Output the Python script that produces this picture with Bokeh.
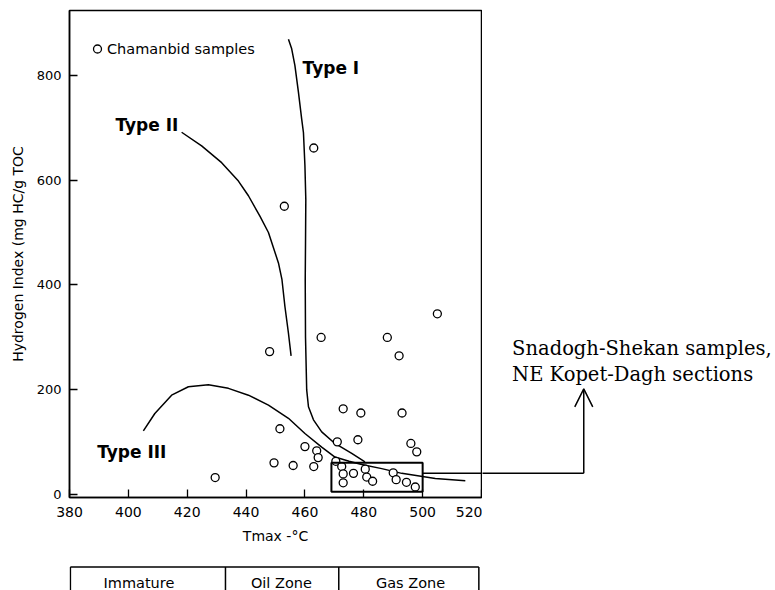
from bokeh.plotting import figure
from bokeh.layouts import row, column
from bokeh.models import (Range1d, FixedTicker, Label, Arrow, OpenHead,
                          BoxAnnotation, Legend, LegendItem, ColumnDataSource)
from bokeh.embed import file_html
from bokeh.resources import INLINE

# ---------------- data ----------------
tmax = [505, 465.5, 488, 448, 492, 473, 479, 493, 451.5, 471, 478, 496, 498,
        460, 464, 464.5, 463, 449.5, 456, 470.5, 472.5, 473, 473, 476.5, 480.5,
        481, 483, 490, 491, 494.5, 497.5, 453, 463, 429.5]
hi = [345, 300, 300, 273, 265, 164, 156, 156, 126, 101, 105, 98, 82,
      92, 84, 71, 54, 61, 56, 64, 54, 40, 23, 41, 49,
      34, 26, 42, 29, 24, 15, 550, 661, 33]

type1_t = [454.4, 455.5, 456.6, 457.8, 458.9, 459.5, 460.0, 460.3, 460.2, 460.1,
           460.2, 460.6, 461.2, 462.9, 465.7, 470.2, 475.9, 480.4]
type1_hi = [868, 850, 818, 767, 716, 690, 627, 563, 480, 410,
            300, 200, 168, 143, 120, 98, 79, 63]

type2_t = [418.1, 424.9, 431.7, 437.4, 440.8, 444.7, 447.6, 451.0, 452.2, 453.2, 454.4, 455.3]
type2_hi = [691, 665, 633, 598, 570, 531, 500, 442, 410, 359, 308, 265]

type3_t = [405.1, 409.0, 414.7, 420.4, 427.2, 434.0, 440.8, 447.6, 454.4, 460.0,
           465.7, 470.2, 475.0, 479.3, 486.1, 492.9, 504.3, 514.5]
type3_hi = [122, 155, 190, 206, 210, 203, 190, 171, 146, 117,
            91, 72, 64, 58, 50, 41, 31, 27]

x_ticks = [380, 400, 420, 440, 460, 480, 500, 520]
y_ticks = [0, 200, 400, 600, 800]

kerogen_types = ["Type I", "Type II", "Type III"]
zones = ["Immature", "Oil Zone", "Gas Zone"]
series_name = "Chamanbid samples"
note_lines = ["Snadogh-Shekan samples,", "NE Kopet-Dagh sections"]

# ---------------- layout constants ----------------
FW, FH = 412, 487            # plot frame size (px)
LEFT, TOP = 69, 10           # frame offset on the page
PX_PER_T = FW / 140.0
X0, X1 = 380, 520
Y0, Y1 = -5, 923

# ---------------- main plot ----------------
p = figure(frame_width=FW, frame_height=FH,
           min_border_left=LEFT, min_border_right=1,
           min_border_top=TOP, min_border_bottom=63,
           x_range=Range1d(X0, X1), y_range=Range1d(Y0, Y1),
           output_backend="svg", toolbar_location=None, tools="")
p.background_fill_color = "white"
p.border_fill_color = "white"
p.outline_line_color = "black"
p.outline_line_width = 1.5
p.grid.visible = False

p.xaxis.ticker = FixedTicker(ticks=x_ticks)
p.yaxis.ticker = FixedTicker(ticks=y_ticks)
for ax in (p.xaxis[0], p.yaxis[0]):
    ax.major_tick_in = 8
    ax.major_tick_out = 0
    ax.minor_tick_in = 0
    ax.minor_tick_out = 0
    ax.axis_line_color = "black"
    ax.axis_line_width = 1.5
    ax.major_tick_line_color = "black"
    ax.major_tick_line_width = 1.3
    ax.major_label_text_font = "DejaVu Sans"
    ax.major_label_text_color = "black"
    ax.axis_label_text_font = "DejaVu Sans"
    ax.axis_label_text_font_style = "normal"
    ax.axis_label_text_font_size = "14px"
    ax.axis_label_text_color = "black"
p.xaxis.major_label_text_font_size = "14px"
p.yaxis.major_label_text_font_size = "13px"
p.xaxis.major_label_standoff = 9
p.yaxis.major_label_standoff = 8
p.xaxis.axis_label = "Tmax -°C"
p.xaxis.axis_label_standoff = 8
p.yaxis.axis_label = "Hydrogen Index (mg HC/g TOC"
p.yaxis.axis_label_standoff = 8

# kerogen type curves
for xs, ys in ((type1_t, type1_hi), (type2_t, type2_hi), (type3_t, type3_hi)):
    p.line(xs, ys, line_color="black", line_width=1.5)

# curve labels
label_pos = [(459.2, 812.5), (395.6, 703.9), (389.4, 81.3)]
for name, (lx, ly) in zip(kerogen_types, label_pos):
    p.add_layout(Label(x=lx, y=ly, text=name, text_font="DejaVu Sans",
                       text_font_style="bold", text_font_size="17px",
                       text_color="black", text_baseline="alphabetic"))

# highlighted box
p.add_layout(BoxAnnotation(left=469, right=500, bottom=6, top=61,
                           fill_alpha=0, line_color="black", line_alpha=1,
                           line_width=2))

# samples
src = ColumnDataSource(dict(x=tmax, y=hi))
r = p.scatter("x", "y", source=src, marker="circle", size=8,
              fill_color="white", line_color="black", line_width=1.3)

legend = Legend(items=[LegendItem(label=series_name, renderers=[r])],
                location="top_left", margin=0, padding=18,
                glyph_width=20, glyph_height=41, label_standoff=0,
                border_line_alpha=0, background_fill_alpha=0,
                label_text_font="DejaVu Sans", label_text_font_size="14.5px",
                label_text_color="black")
p.add_layout(legend)

# connector: part inside the plot frame
CONN_Y = 41.3
ARROW_X = 554.75
p.add_layout(Arrow(end=None, x_start=500, y_start=CONN_Y, x_end=X1 + 5, y_end=CONN_Y,
                   line_color="black", line_width=1.5))

# ---------------- right-hand note panel (continues the x scale) ----------------
NOTE_W = 775 - (LEFT + FW + 1)
note_x0 = X1 + 1 / PX_PER_T
note = figure(frame_width=NOTE_W, frame_height=FH,
              min_border_left=0, min_border_right=0,
              min_border_top=TOP, min_border_bottom=590 - TOP - FH,
              x_range=Range1d(note_x0, note_x0 + NOTE_W / PX_PER_T),
              y_range=p.y_range, x_axis_location=None, y_axis_location=None,
              output_backend="svg", toolbar_location=None, tools="")
note.outline_line_color = None
note.grid.visible = False
note.background_fill_color = "white"
note.border_fill_color = "white"
note.add_layout(Arrow(end=None, x_start=X1 - 5, y_start=CONN_Y, x_end=ARROW_X, y_end=CONN_Y,
                      line_color="black", line_width=1.5))
note.add_layout(Arrow(end=OpenHead(size=18, line_color="black", line_width=1.5),
                      x_start=ARROW_X, y_start=CONN_Y, x_end=ARROW_X, y_end=202,
                      line_color="black", line_width=1.5))
for txt, ly in zip(note_lines, (279.5, 228.8)):
    note.add_layout(Label(x=530.4, y=ly, text=txt, text_font="DejaVu Serif",
                          text_font_size="19.5px", text_color="black",
                          text_baseline="alphabetic"))

# ---------------- maturity table under the axis ----------------
TBL_H = 30
tbl = figure(frame_width=FW, frame_height=TBL_H,
             min_border_left=LEFT, min_border_right=1, min_border_top=0, min_border_bottom=0,
             x_range=Range1d(X0, X1), y_range=Range1d(TBL_H, 0),
             x_axis_location=None, y_axis_location=None,
             output_backend="svg", toolbar_location=None, tools="")
tbl.outline_line_color = None
tbl.grid.visible = False
tbl.background_fill_color = "white"
tbl.border_fill_color = "white"
tbl_edges = [380.3, 433.0, 471.5, 519.1]
TBL_TOP = 6.5
tbl.segment(x0=[tbl_edges[0]] + tbl_edges, y0=[TBL_TOP] * 5,
            x1=[tbl_edges[-1]] + tbl_edges, y1=[TBL_TOP] + [TBL_H + 5] * 4,
            line_color="black", line_width=1.5)
zone_centres = [403.6, 452.0, 495.9]
for z, zx in zip(zones, zone_centres):
    tbl.add_layout(Label(x=zx, y=22.5, text=z, text_align="center",
                         text_baseline="alphabetic", text_font="DejaVu Sans",
                         text_font_size="14.5px", text_color="black"))

layout = row(column(p, tbl), note)
open("out.html", "w").write(file_html(layout, INLINE))
